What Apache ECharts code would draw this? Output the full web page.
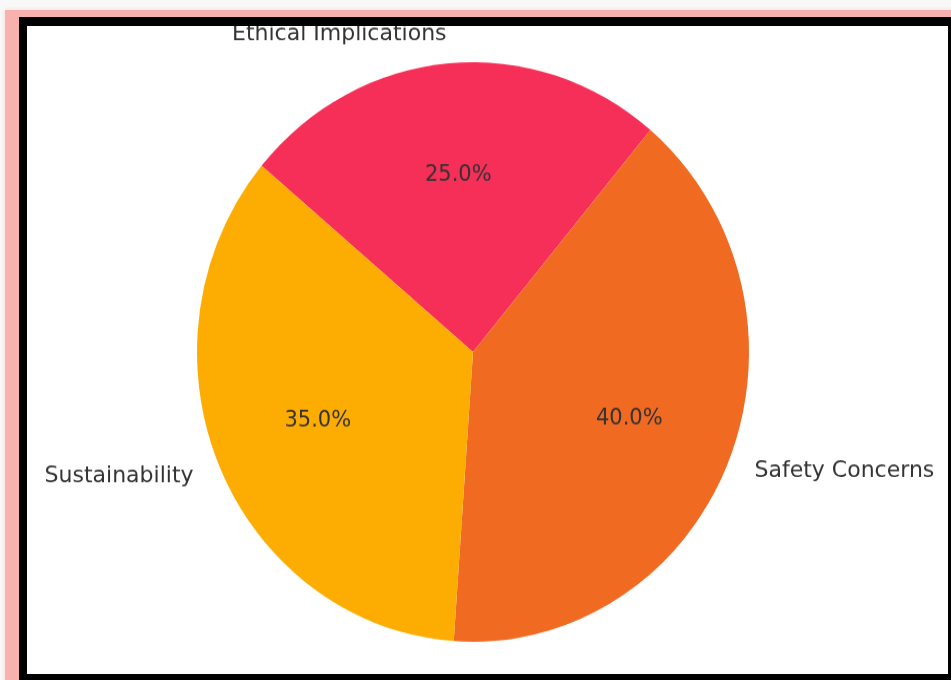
<!DOCTYPE html>
<html>
<head>
<meta charset="utf-8">
<script src="https://cdn.jsdelivr.net/npm/echarts@6/dist/echarts.min.js"></script>
<style>
  html, body { margin: 0; padding: 0; width: 951px; height: 680px; overflow: hidden; background: #f8f8f8; }
  #pink { position: absolute; left: 5px; top: 10px; width: 980px; height: 700px; background: #f7b2b0; box-shadow: 0 0 4px #fbd3d2; }
  #frame { position: absolute; left: 19px; top: 17px; width: 921px; height: 648px; border: 8px solid #000; border-top-width: 9px; background: #fff; }
  #clip { position: absolute; left: 27px; top: 26px; width: 921px; height: 648px; overflow: hidden; }
  #main { width: 921px; height: 648px; transform-origin: 0 326px; transform: scaleY(1.05); }
</style>
</head>
<body>
<div id="pink"></div>
<div id="frame"></div>
<div id="clip"><div id="main"></div></div>
<script>
var labels = ['Ethical Implications', 'Safety Concerns', 'Sustainability'];
var values = [25, 40, 35];
var colors = ['#f52f57', '#f06a21', '#fdad02'];

var R = 276;
var font = 'DejaVu Sans';

var myChart = echarts.init(document.getElementById('main'));

var slices = [], ghosts = [];
for (var i = 0; i < labels.length; i++) {
    slices.push({ name: labels[i], value: values[i], itemStyle: { color: colors[i] } });
    ghosts.push({ name: labels[i], value: values[i] });
}

var option = {
    backgroundColor: 'transparent',
    animation: false,
    series: [
        {
            type: 'pie',
            center: [446, 326],
            radius: [0, R],
            startAngle: 140,
            clockwise: true,
            avoidLabelOverlap: false,
            itemStyle: { borderWidth: 0 },
            label: {
                show: true,
                position: 'outside',
                formatter: '{b}',
                color: '#333',
                fontFamily: font,
                fontSize: 22,
                distanceToLabelLine: 0
            },
            labelLine: { show: false, length: R * 0.1, length2: 0 },
            emphasis: { disabled: true },
            data: slices
        },
        {
            // invisible ring used only to put the percentages at 0.6 R
            type: 'pie',
            center: [446, 326],
            radius: [0, R * 1.2],
            startAngle: 140,
            clockwise: true,
            silent: true,
            itemStyle: { color: 'rgba(0,0,0,0)', borderWidth: 0 },
            label: {
                show: true,
                position: 'inside',
                formatter: function (p) { return p.value.toFixed(1) + '%'; },
                color: '#333',
                fontFamily: font,
                fontSize: 21
            },
            labelLine: { show: false },
            emphasis: { disabled: true },
            data: ghosts
        }
    ]
};

myChart.setOption(option);
</script>
</body>
</html>
